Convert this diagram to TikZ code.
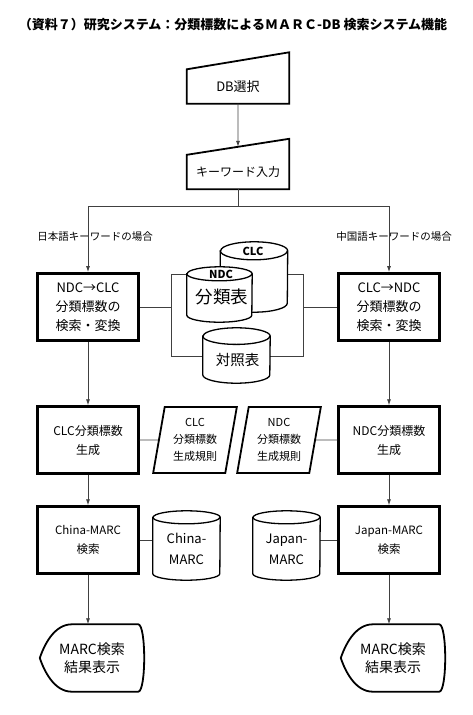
\documentclass[tikz,border=0pt]{standalone}
\usepackage{fontspec}
\setmainfont{Noto Sans CJK JP}
\usetikzlibrary{arrows.meta, positioning, shapes.geometric, calc}
\tikzset{
  box/.style     = {draw, line width=2.4pt, minimum width=101pt,
                    minimum height=67pt, align=center, inner sep=0pt},
  inbox/.style   = {minimum width=102pt, minimum height=34pt, inner sep=0pt},
  slant/.style   = {line width=1.8pt, line join=miter},
  rulebox/.style = {trapezium, trapezium left angle=79,
                    trapezium right angle=101, trapezium stretches=true,
                    draw, line width=1.8pt, minimum width=84pt,
                    minimum height=66pt, align=center, inner sep=0pt,
                    font=\fontsize{11}{17}\selectfont},
  dbcore/.style  = {minimum width=67pt, inner sep=0pt},
  dbline/.style  = {line width=1.3pt, fill=white},
  shows/.style   = {minimum width=104pt, minimum height=67pt, inner sep=0pt,
                    align=center, font=\fontsize{14}{18}\selectfont},
  link/.style    = {draw=black!75, line width=0.8pt},
  arr/.style     = {link, -{Latex[length=6pt, width=4pt]}},
  caselabel/.style = {font=\fontsize{10.5}{12}\selectfont}
}

\begin{document}
\begin{tikzpicture}[x=1pt, y=-1pt]
  \useasboundingbox (0,0) rectangle (472,715);
  \node[anchor=west, font=\bfseries\fontsize{13}{15}\selectfont] (title)
    at (15.3,24.5) {（資料７）研究システム：分類標数によるＭＡＲＣ-DB 検索システム機能};

  % input
  \node[inbox, font=\fontsize{13}{16}\selectfont] (dbsel) at (238,86.5) {DB選択};
  \node[inbox, font=\fontsize{12}{16}\selectfont] (kwin)  at (238,172) {キーワード入力};
  \draw[slant] (dbsel.south west) -- (dbsel.south east)
    -- ([yshift=17pt]dbsel.north east) -- (dbsel.north west) -- cycle;
  \draw[slant] (kwin.south west) -- (kwin.south east)
    -- ([yshift=16pt]kwin.north east) -- (kwin.north west) -- cycle;
  \coordinate (kwtop) at ($(kwin.north west)!0.5!([yshift=16pt]kwin.north east)$);
  \draw[arr] (dbsel) -- (kwtop);

  % branch
  \coordinate (split) at (238,206);
  \coordinate (jpl) at (88,206);
  \coordinate (cnl) at (389,206);
  \node[caselabel] (jpcase) at (95,237) {日本語キーワードの場合};
  \node[caselabel] (cncase) at (394,237) {中国語キーワードの場合};

  % conversion
  \node[box, line width=2.8pt, font=\fontsize{13}{19}\selectfont] (ndc2clc)
    at (88,307) {NDC→CLC\\分類標数の\\検索・変換};
  \node[box, line width=2.8pt, font=\fontsize{13}{19}\selectfont] (clc2ndc)
    at (389,307) {CLC→NDC\\分類標数の\\検索・変換};
  \draw[link] (kwin.south) -- (split);
  \draw[link] (jpl) -- (cnl);
  \draw[arr] (jpl) -- (ndc2clc);
  \draw[arr] (cnl) -- (clc2ndc);

  % tables
  \coordinate (lt) at (171,274);
  \coordinate (lb) at (171,356);
  \coordinate (rt) at (303,274);
  \coordinate (rb) at (303,356);
  \node[dbcore, minimum height=70pt] (clcdb) at (254,277) {};
  \node[dbcore, minimum width=65pt, minimum height=55pt] (ndcdb) at (219.5,294.5) {};
  \node[dbcore, minimum height=55pt] (taisho) at (236.5,355.5) {};
  \draw[link] (ndcdb.west |- lt) -- (lt) -- (lb) -- (taisho.west |- lb);
  \draw[link] (ndc2clc.east) -- (ndc2clc.east -| lt);
  \draw[link] (clcdb.east |- rt) -- (rt) -- (rb) -- (taisho.east |- rb);
  \draw[link] (clc2ndc.west -| rt) -- (clc2ndc.west);

  % generation
  \node[box, font=\fontsize{12}{19}\selectfont] (clcgen) at (88,440)
    {CLC分類標数\\生成};
  \node[box, font=\fontsize{12}{19}\selectfont] (ndcgen) at (389,440)
    {NDC分類標数\\生成};
  \node[rulebox] (clcrule) at (195,440) {CLC\\分類標数\\生成規則};
  \node[rulebox] (ndcrule) at (279,440) {NDC\\分類標数\\生成規則};
  \draw[arr] (ndc2clc) -- (clcgen);
  \draw[arr] (clc2ndc) -- (ndcgen);
  \draw[link] (clcgen) -- (clcrule);
  \draw[link] (ndcrule) -- (ndcgen);

  % search
  \node[box, font=\fontsize{11.5}{19}\selectfont] (cnsearch) at (88,540)
    {China-MARC\\検索};
  \node[box, font=\fontsize{11.5}{19}\selectfont] (jpsearch) at (389,540)
    {Japan-MARC\\検索};
  \node[dbcore, minimum height=69pt] (cnmarc) at (186.5,545.5) {};
  \node[dbcore, minimum height=69pt] (jpmarc) at (286.5,545.5) {};
  \draw[arr] (clcgen) -- (cnsearch);
  \draw[arr] (ndcgen) -- (jpsearch);
  \draw[link] (cnsearch.east) -- (cnsearch.east -| cnmarc.west);
  \draw[link] (jpsearch.west -| jpmarc.east) -- (jpsearch.west);

  % cylinders
  \foreach \n/\w/\r in {clcdb/33.5/9, ndcdb/32.5/7, taisho/33.5/8.3,
                        cnmarc/33.5/6.5, jpmarc/33.5/6.5} {
    \draw[dbline] ([yshift=-\r pt]\n.north west)
      -- ([yshift=\r pt]\n.south west)
      arc[start angle=180, end angle=360, x radius=\w pt, y radius=\r pt]
      -- ([yshift=-\r pt]\n.north east)
      arc[start angle=0, end angle=180, x radius=\w pt, y radius=\r pt]
      -- cycle;
    \draw[line width=1.3pt] ([yshift=-\r pt]\n.north west)
      arc[start angle=180, end angle=360, x radius=\w pt, y radius=\r pt];
  }
  \node[font=\bfseries\fontsize{11}{12}\selectfont] at (253,251) {CLC};
  \node[font=\bfseries\fontsize{11}{12}\selectfont] at (221,274) {NDC};
  \node[font=\fontsize{17.5}{20}\selectfont] at (222,297) {分類表};
  \node[font=\fontsize{14.5}{16}\selectfont] at (237.5,360) {対照表};
  \node[font=\fontsize{13}{21}\selectfont, align=center] at (186.5,549)
    {China-\\MARC};
  \node[font=\fontsize{13}{21}\selectfont, align=center] at (286.5,549)
    {Japan-\\MARC};

  % results
  \node[shows] (cnshow) at (92,658) {MARC検索\\結果表示};
  \node[shows] (jpshow) at (393,658) {MARC検索\\結果表示};
  \foreach \s in {cnshow, jpshow} {
    \draw[slant] ([xshift=32pt]\s.north west) -- ([xshift=-6pt]\s.north east)
      .. controls ([xshift=2pt]\s.north east) and ([xshift=2pt]\s.south east)
      .. ([xshift=-6pt]\s.south east) -- ([xshift=32pt]\s.south west)
      .. controls ([xshift=14pt]\s.south west) and ([xshift=4pt,yshift=-12pt]\s.west)
      .. (\s.west)
      .. controls ([xshift=4pt,yshift=12pt]\s.west) and ([xshift=14pt]\s.north west)
      .. cycle;
  }
  \draw[arr] (cnsearch) -- (cnsearch |- cnshow.north);
  \draw[arr] (jpsearch) -- (jpsearch |- jpshow.north);
\end{tikzpicture}
\end{document}
